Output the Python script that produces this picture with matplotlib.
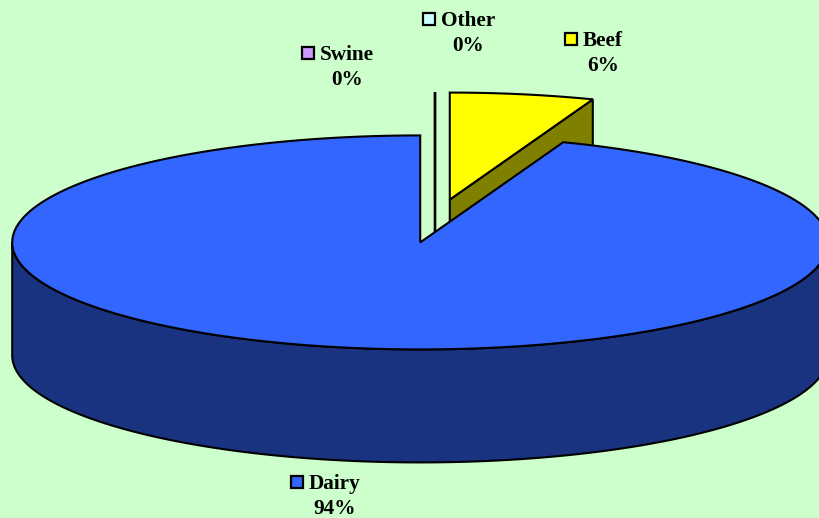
import numpy as np
import matplotlib
matplotlib.use("Agg")
import matplotlib.pyplot as plt
from matplotlib.patches import Polygon, Rectangle

# slices, clockwise from 12 o'clock (shares in %)
labels = ["Beef", "Dairy", "Swine", "Other"]
values = [5.7, 94.3, 0, 0]
colors = ["#FFFF00", "#3366FF", "#CC99FF", "#CCFFFF"]
side_colors = ["#808000", "#1A3380", "#664C80", "#668080"]

# where each data label sits: (key left x, first-line baseline y), pixel coords
label_pos = {"Beef": (564, 46), "Dairy": (290, 489), "Swine": (301, 60), "Other": (422, 26)}

# pie geometry in pixels
cx, cy = 435, 221
rx, ry = 408, 107
depth = 113
explode = 83
k = ry / rx

fig = plt.figure(figsize=(8.2, 5.18), dpi=100)
fig.patch.set_facecolor("#CCFFCC")
ax = fig.add_axes([0, 0, 1, 1])
ax.set_xlim(0, 820)
ax.set_ylim(518, 0)
ax.axis("off")

total = sum(values)
bounds = np.concatenate([[0], np.cumsum(values)]) / total * 2 * np.pi

slices = []
for i in range(len(values)):
    s, e = bounds[i], bounds[i + 1]
    m = (s + e) / 2
    apx = cx + explode * np.sin(m)
    apy = cy - explode * k * np.cos(m)
    slices.append((apy, i, s, e, apx))

lw = 1.5


def arc(apx, apy, a0, a1, n=200):
    th = np.linspace(a0, a1, n)
    return np.column_stack([apx + rx * np.sin(th), apy - ry * np.cos(th)])


# paint back slices first
for apy, i, s, e, apx in sorted(slices):
    zero = e - s < 1e-9
    # radial side faces
    for ang, visible in ((s, np.sin(s) < -1e-9), (e, np.sin(e) > 1e-9)):
        if visible or zero:
            ox, oy = apx + rx * np.sin(ang), apy - ry * np.cos(ang)
            face = [(apx, apy), (ox, oy), (ox, oy + depth), (apx, apy + depth)]
            ax.add_patch(Polygon(face, closed=True, facecolor=side_colors[i],
                                 edgecolor="black", lw=lw, joinstyle="miter"))
    # outer wall, front half only
    a0, a1 = max(s, np.pi / 2), min(e, 3 * np.pi / 2)
    if a1 > a0:
        top = arc(apx, apy, a0, a1)
        bot = top[::-1] + [0, depth]
        ax.add_patch(Polygon(np.vstack([top, bot]), closed=True, facecolor=side_colors[i],
                             edgecolor="black", lw=lw))
    # top face
    pts = np.vstack([[apx, apy], arc(apx, apy, s, e)])
    ax.add_patch(Polygon(pts, closed=True, facecolor=colors[i], edgecolor="black",
                         lw=lw, joinstyle="miter"))

# data labels: legend key + name, percentage centred under the name
font = dict(family="Liberation Serif", weight="bold", size=15.3, color="black")
renderer = fig.canvas.get_renderer()
for i, name in enumerate(labels):
    kx, by = label_pos[name]
    ax.add_patch(Rectangle((kx + 1, by - 13), 12, 12, facecolor=colors[i],
                           edgecolor="black", lw=1.6))
    t = ax.text(kx + 19, by, name, ha="left", va="baseline", **font)
    bb = t.get_window_extent(renderer=renderer).transformed(ax.transData.inverted())
    mid = (bb.x0 + bb.x1) / 2
    ax.text(mid, by + 25, f"{values[i] / total * 100:.0f}%", ha="center", va="baseline", **font)

fig.savefig("out.png", dpi=100, facecolor=fig.get_facecolor())
